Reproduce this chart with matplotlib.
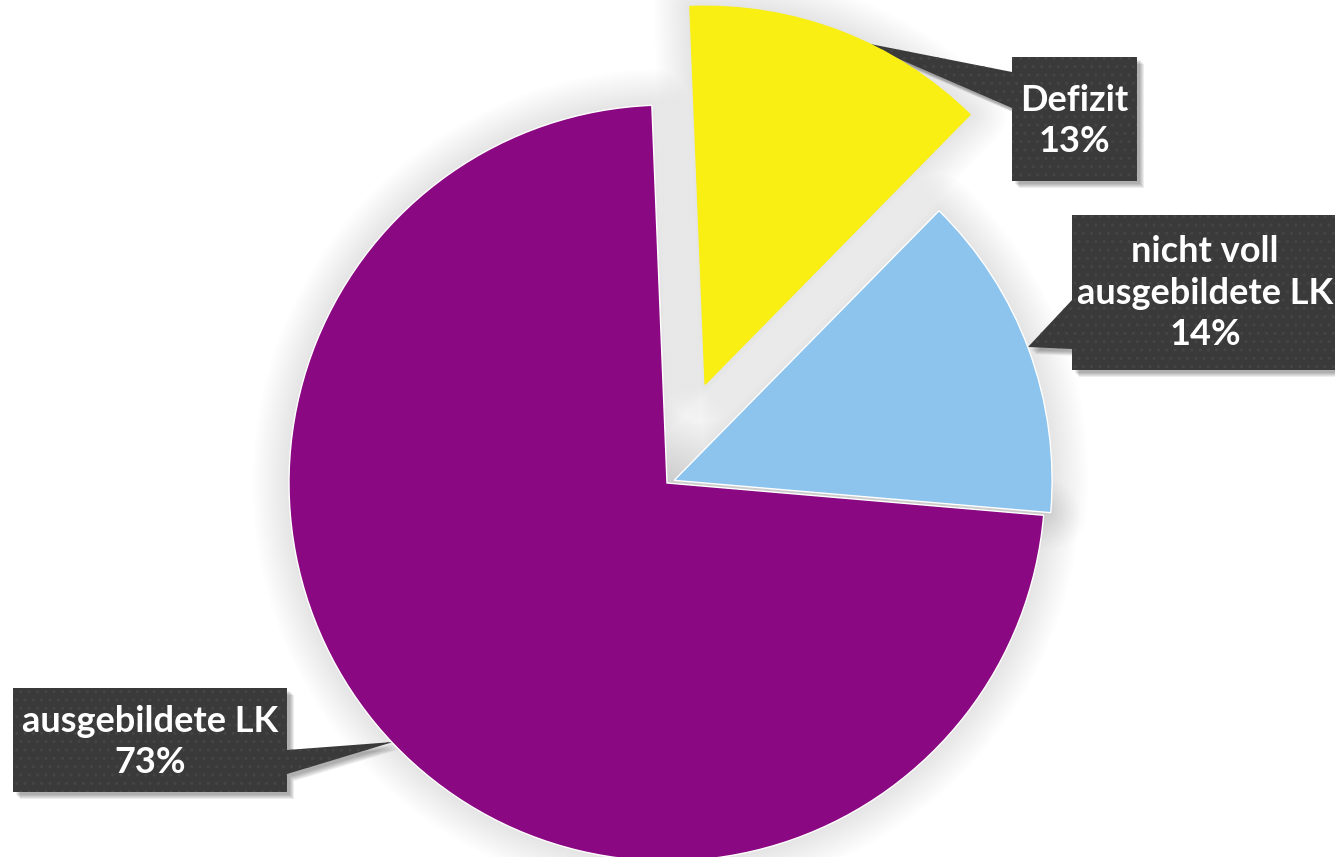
import matplotlib
matplotlib.use("Agg")
import matplotlib.pyplot as plt
from matplotlib import patheffects as pe
from matplotlib.patches import Polygon

# ── Daten ─────────────────────────────────────────────
kategorien = ["Defizit", "nicht voll\nausgebildete LK", "ausgebildete LK"]
anteile = [13, 14, 73]
farben = ["#F9EF12", "#8CC4EE", "#8B0883"]
explode_anteil = [0.28, 0.02, 0.0]   # Bruchteil des Radius

W, H = 1335, 857
MITTE = (667, H - 483)
RADIUS = 378
explode = [e * RADIUS for e in explode_anteil]  # pie() erwartet Dateneinheiten


def y(v):
    # Pixel von oben -> Achsenkoordinate
    return H - v


fig = plt.figure(figsize=(W / 100, H / 100), dpi=100)
ax = fig.add_axes([0, 0, 1, 1])
ax.set_aspect("equal")
ax.axis("off")

# weicher Schatten um die Stücke
schatten, _ = ax.pie(anteile, explode=explode, startangle=92.3, counterclock=False,
                     center=MITTE, radius=RADIUS, colors=["none"] * 3)
glow = [pe.Stroke(linewidth=w, foreground="black", alpha=0.009, joinstyle="round")
        for w in range(52, 0, -4)]
for s in schatten:
    s.set_path_effects(glow)
    s.set_zorder(1)

# eigentliche Torte
stuecke, _ = ax.pie(anteile, explode=explode, startangle=92.3, counterclock=False,
                    center=MITTE, radius=RADIUS, colors=farben,
                    wedgeprops=dict(edgecolor="white", linewidth=1.0))
for s in stuecke:
    s.set_zorder(2)
# das herausgezogene Stück ohne weiße Kante
stuecke[0].set_edgecolor(farben[0])

ax.set_xlim(0, W)
ax.set_ylim(0, H)

# ── Beschriftungen (Sprechblasen) ─────────────────────
blasen = [
    # Box (x0, y0, x1, y1), Spitze, Basis auf Boxkante
    dict(box=(1012, 57, 1137, 181), spitze=(860, 42), basis=(72, 108), seite="links",
         text=(1074, 121)),
    dict(box=(1072, 215, 1345, 370), spitze=(1028, 347), basis=(300, 349), seite="links",
         text=(1205, 293)),
    dict(box=(13, 688, 287, 792), spitze=(393, 742), basis=(750, 774), seite="rechts",
         text=(150, 742)),
]

for b, name, wert in zip(blasen, kategorien, anteile):
    x0, y0, x1, y1 = b["box"]
    tx, ty = b["spitze"]
    b0, b1 = b["basis"]
    if b["seite"] == "links":
        pts = [(x0, y0), (x1, y0), (x1, y1), (x0, y1), (x0, b1), (tx, ty), (x0, b0)]
    else:
        pts = [(x0, y0), (x1, y0), (x1, b0), (tx, ty), (x1, b1), (x1, y1), (x0, y1)]
    # weicher Schlagschatten nach rechts unten
    for o in (7, 6, 5, 4, 3):
        ax.add_patch(Polygon([(px + o, y(py + o)) for px, py in pts], closed=True,
                             facecolor="black", alpha=0.07, linewidth=0, zorder=1.4))
    ax.add_patch(Polygon([(px, y(py)) for px, py in pts], closed=True,
                         facecolor="#3A3A3A", edgecolor="#454545", hatch="..",
                         linewidth=0, zorder=1.5))
    ax.text(b["text"][0], y(b["text"][1]), f"{name}\n{wert}%", ha="center", va="center",
            color="white", fontsize=26, fontweight="bold", family="Lato",
            linespacing=1.3, zorder=3)

fig.savefig("out.png", dpi=100)
